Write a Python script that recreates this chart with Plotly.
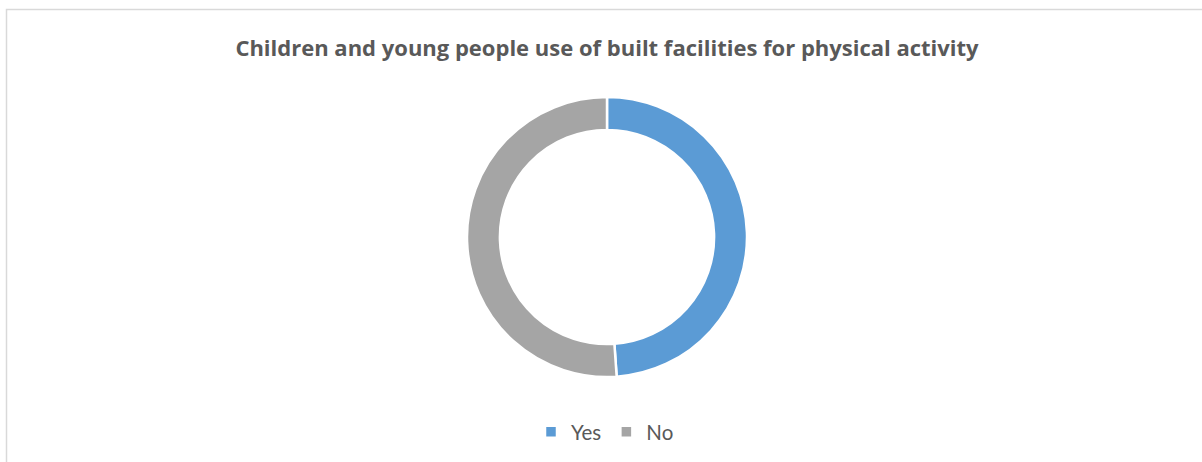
import plotly.graph_objects as go

labels = ["Yes", "No"]
values = [48.9, 51.1]
colors = ["#5B9BD5", "#A5A5A5"]
title_text = "Children and young people use of built facilities for physical activity"

W, H = 1202, 462

fig = go.Figure(go.Pie(
    labels=labels,
    values=values,
    hole=0.765,
    sort=False,
    direction="clockwise",
    rotation=0,
    marker=dict(colors=colors, line=dict(color="white", width=2.5)),
    textinfo="none",
    hoverinfo="label+value",
    domain=dict(x=[467 / W, 747 / W], y=[1 - 377 / H, 1 - 97 / H]),
))

fig.update_layout(
    width=W, height=H,
    margin=dict(l=0, r=0, t=0, b=0),
    paper_bgcolor="white",
    plot_bgcolor="white",
    title=dict(text="<b>" + title_text + "</b>", x=607 / W, xanchor="center",
               y=1 - 48 / H, yanchor="middle",
               font=dict(family="Open Sans, sans-serif", size=22, color="#595959")),
    showlegend=True,
    legend=dict(orientation="h", x=605 / W, xanchor="center", y=1 - 432 / H, yanchor="middle",
                font=dict(family="Lato, Open Sans, sans-serif", size=20.5, color="#595959"),
                itemwidth=30, traceorder="normal"),
    shapes=[dict(type="rect", xref="paper", yref="paper",
                 x0=6.5 / W, x1=1.01, y0=-0.01, y1=1 - 9.5 / H,
                 line=dict(color="#D9D9D9", width=1.5))],
)

fig.write_html("out.html",
               config={"displayModeBar": False},
               post_script="document.body.style.margin='0';document.body.style.overflow='hidden';")
